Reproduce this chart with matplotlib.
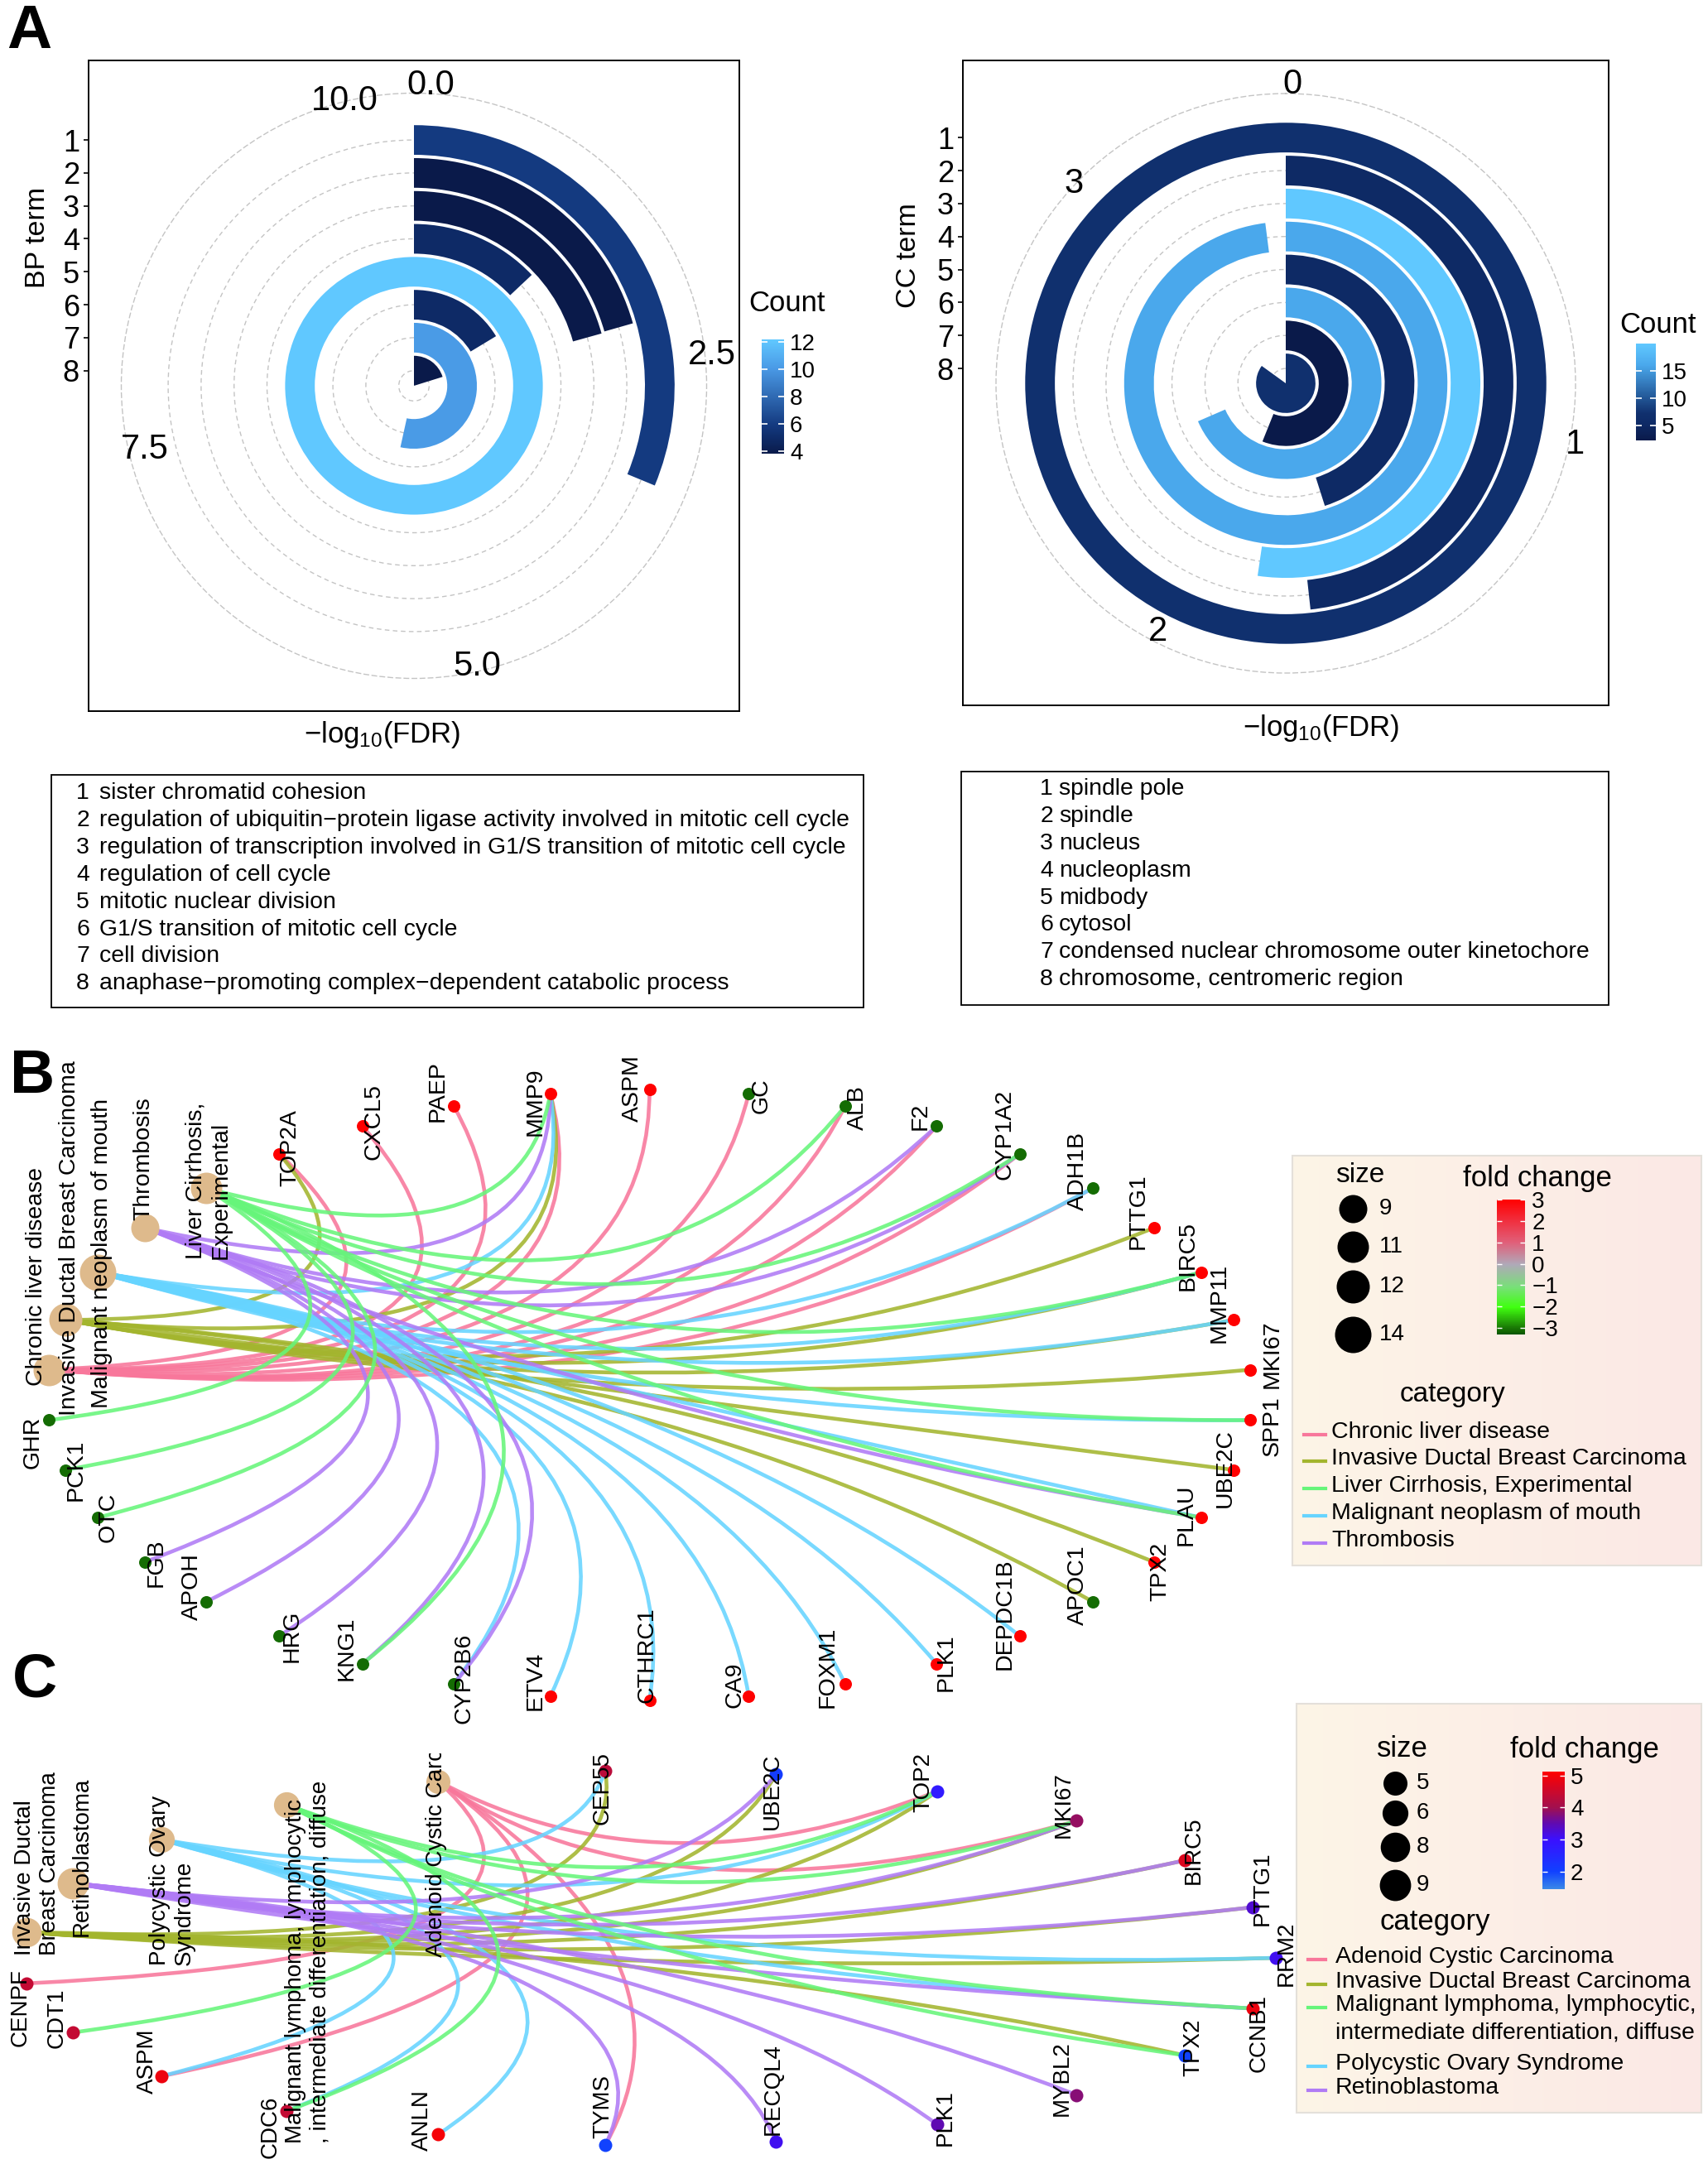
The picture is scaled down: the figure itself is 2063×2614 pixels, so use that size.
import matplotlib
matplotlib.use("Agg")
import matplotlib.pyplot as plt
import numpy as np
from matplotlib.cm import ScalarMappable
from matplotlib.colors import LinearSegmentedColormap, Normalize
from matplotlib.patches import PathPatch, Rectangle
from matplotlib.path import Path

plt.rcParams['font.family'] = ['Liberation Sans', 'DejaVu Sans']
plt.rcParams['mathtext.default'] = 'regular'

W, H = 2063, 2614

# panel A data
bp_terms = ["sister chromatid cohesion",
            "regulation of ubiquitin\u2212protein ligase activity involved in mitotic cell cycle",
            "regulation of transcription involved in G1/S transition of mitotic cell cycle",
            "regulation of cell cycle",
            "mitotic nuclear division",
            "G1/S transition of mitotic cell cycle",
            "cell division",
            "anaphase\u2212promoting complex\u2212dependent catabolic process"]
bp_fdr = [3.25, 2.14, 2.15, 1.35, 10.4, 1.7, 5.56, 2.1]
bp_count = [6, 4, 4, 5, 12, 5, 10, 4]
bp_ticks = [0, 2.5, 5, 7.5, 10]
bp_labels = ["0.0", "2.5", "5.0", "7.5", "10.0"]

cc_terms = ["spindle pole", "spindle", "nucleus", "nucleoplasm", "midbody", "cytosol",
            "condensed nuclear chromosome outer kinetochore", "chromosome, centromeric region"]
cc_fdr = [3.46, 1.67, 1.81, 3.39, 1.56, 2.37, 1.94, 2.94]
cc_count = [7, 5, 20, 16, 5, 16, 2, 7]
cc_ticks = [0, 1, 2, 3]
cc_labels = ["0", "1", "2", "3"]

# panel B data
b_genes_top = ["ASPM", "GC", "ALB", "F2", "CYP1A2", "ADH1B", "PTTG1", "BIRC5", "MMP11", "MKI67",
               "SPP1", "UBE2C", "PLAU", "TPX2", "APOC1", "DEPDC1B", "PLK1", "FOXM1", "CA9", "CTHRC1",
               "ETV4", "CYP2B6", "KNG1", "HRG", "APOH", "FGB", "OTC", "PCK1", "GHR"]
b_diseases = ["Chronic liver disease", "Invasive Ductal Breast Carcinoma", "Malignant neoplasm of mouth",
              "Thrombosis", "Liver Cirrhosis,\nExperimental"]
b_genes_end = ["TOP2A", "CXCL5", "PAEP", "MMP9"]
b_down = ["GC", "ALB", "F2", "CYP1A2", "ADH1B", "APOC1", "CYP2B6", "KNG1", "HRG", "APOH", "FGB", "OTC", "PCK1", "GHR"]
b_size = [11, 12, 14, 9, 11]

b_chronic = ["TOP2A", "CXCL5", "PAEP", "MMP9", "ASPM", "GC", "ALB", "F2", "CYP1A2", "ADH1B"]
b_invasive = ["TOP2A", "MMP9", "PTTG1", "BIRC5", "MMP11", "MKI67", "UBE2C", "TPX2", "APOC1"]
b_mouth = ["MMP9", "ADH1B", "BIRC5", "MMP11", "SPP1", "PLAU", "DEPDC1B", "PLK1", "FOXM1", "CA9", "CTHRC1", "ETV4", "CYP2B6"]
b_thrombosis = ["MMP9", "F2", "CYP1A2", "PLAU", "CYP2B6", "KNG1", "HRG", "APOH", "FGB"]
b_cirrhosis = ["MMP9", "ALB", "CYP1A2", "BIRC5", "SPP1", "PLAU", "KNG1", "OTC", "PCK1", "GHR"]

# panel C data
c_genes_a = ["RRM2", "CCNB1", "TPX2", "MYBL2", "PLK1", "RECQL4", "TYMS", "ANLN", "CDC6", "ASPM", "CDT1", "CENPF"]
c_diseases = ["Invasive Ductal\nBreast Carcinoma", "Retinoblastoma", "Polycystic Ovary\nSyndrome",
              "Malignant lymphoma, lymphocytic\n, intermediate differentiation, diffuse", "Adenoid Cystic Carcinoma"]
c_genes_b = ["CEP55", "UBE2C", "TOP2", "MKI67", "BIRC5", "PTTG1"]
c_fold = {"RRM2": 3.1, "CCNB1": 4.9, "TPX2": 2.0, "MYBL2": 3.8, "PLK1": 3.5, "RECQL4": 3.1, "TYMS": 2.0,
          "ANLN": 5.0, "CDC6": 4.4, "ASPM": 4.9, "CDT1": 4.4, "CENPF": 4.4, "CEP55": 4.3, "UBE2C": 2.1,
          "TOP2": 2.8, "MKI67": 3.9, "BIRC5": 4.7, "PTTG1": 3.3}
c_size = [8, 9, 6, 6, 5]

c_adenoid = ["TOP2", "MKI67", "TYMS", "ASPM", "CENPF"]
c_invasive = ["CEP55", "UBE2C", "TOP2", "MKI67", "BIRC5", "PTTG1", "RRM2", "TPX2"]
c_polycystic = ["CEP55", "TOP2", "RRM2", "CCNB1", "ANLN", "CDC6", "ASPM"]
c_retino = ["UBE2C", "MKI67", "BIRC5", "PTTG1", "CCNB1", "MYBL2", "PLK1", "RECQL4", "TYMS"]
c_lymphoma = ["TOP2", "MKI67", "CCNB1", "TPX2", "CDC6", "CDT1"]

PINK, OLIVE, GREEN, BLUE, PURPLE = "#f8779b", "#a3b52e", "#66f57a", "#66d4ff", "#b07bf5"
TAN = "#deba8c"

fig = plt.figure(figsize=(W / 100, H / 100), dpi=100, facecolor="white")


def px_axes(x0, y0, x1, y1, **kw):
    return fig.add_axes([x0 / W, 1 - y1 / H, (x1 - x0) / W, (y1 - y0) / H], **kw)


def px_to_pt(d):
    return (d / (100 / 72)) ** 2


canvas = px_axes(0, 0, W, H)
canvas.set_xlim(0, W)
canvas.set_ylim(H, 0)
canvas.axis("off")
canvas.set_zorder(5)
canvas.patch.set_alpha(0)


def count_bar(box, cmap, norm, ticks):
    cax = px_axes(*box)
    cb = fig.colorbar(ScalarMappable(norm=norm, cmap=cmap), cax=cax)
    cb.set_ticks(ticks)
    cb.outline.set_visible(False)
    cax.tick_params(axis="y", direction="in", color="white", length=5, width=1.2,
                    left=True, right=True, labelsize=20, pad=5)
    return cb


def radial_panel(frame_box, centre, radius, unit, origin, values, counts, cmap, norm,
                 vmax, ticks, labels, offsets):
    x0, y0, x1, y1 = frame_box
    frame = px_axes(x0, y0, x1, y1)
    frame.set_xticks([])
    frame.set_ylim(origin - (y1 - centre[1]) / unit, origin + (centre[1] - y0) / unit)
    frame.set_yticks(range(1, 9))
    frame.set_yticklabels(range(8, 0, -1), fontsize=26)
    frame.tick_params(axis="y", length=4, width=1.2, pad=4)
    for s in frame.spines.values():
        s.set_linewidth(1.4)

    ax = px_axes(centre[0] - radius, centre[1] - radius, centre[0] + radius, centre[1] + radius,
                 projection="polar")
    ax.set_theta_zero_location("N")
    ax.set_theta_direction(-1)
    ax.patch.set_alpha(0)
    rmax = origin + radius / unit
    ax.set_ylim(origin, rmax)
    ax.set_rticks(range(1, 9))
    ax.set_yticklabels([])
    ax.set_xticks([])
    ax.yaxis.grid(True, color="#c4c4c4", linestyle=(0, (4, 3)), linewidth=1.0)
    ax.spines["polar"].set_linestyle((0, (4, 3)))
    ax.spines["polar"].set_color("#c4c4c4")
    ax.spines["polar"].set_linewidth(1.0)
    to_angle = 2 * np.pi / vmax
    pos = 8 - np.arange(8)
    bottoms = np.maximum(pos - 0.45, origin)
    tops = pos + 0.45
    ax.bar(np.zeros(8), tops - bottoms, width=np.array(values) * to_angle, bottom=bottoms, align="edge",
           color=cmap(norm(np.array(counts))), linewidth=0, zorder=3)
    for t, lab, off in zip(ticks, labels, offsets):
        ax.annotate(lab, xy=(t * to_angle, rmax), xytext=(off[0], -off[1]), textcoords="offset pixels",
                    ha="center", va="center", fontsize=30, annotation_clip=False, zorder=6)
    return frame, ax


bp_cmap = LinearSegmentedColormap.from_list(
    "bp", [(0, "#0a1a4a"), (0.125, "#0e2a66"), (0.25, "#143a80"), (0.75, "#4a9ae6"), (1, "#60c8ff")])
bp_norm = Normalize(4, 12)
cc_cmap = LinearSegmentedColormap.from_list(
    "cc", [(0, "#0a1a4a"), (0.17, "#0e2a66"), (0.28, "#10306e"), (0.78, "#4aa8ec"), (1, "#60c8ff")])
cc_norm = Normalize(2, 20)

radial_panel((107, 73, 893, 859), (500, 466), 353.5, 39.8, 0.54, bp_fdr, bp_count, bp_cmap, bp_norm, 10.4,
             bp_ticks, bp_labels, [(20, -10), (7, -16), (34, -12), (23, 13), (1, -1)])
radial_panel((1163, 73, 1943, 852), (1553, 463), 350, 39.84, 0.55, cc_fdr, cc_count, cc_cmap, cc_norm, 3.46,
             cc_ticks, cc_labels, [(8, -11), (10, -11), (10, -9), (4, -6)])

count_bar((920, 410, 947, 548), bp_cmap, Normalize(3.8, 12.2), [4, 6, 8, 10, 12])
count_bar((1976, 415, 2000, 532), cc_cmap, Normalize(2.3, 19.9), [5, 10, 15])

canvas.text(45, 287, "BP term", rotation=90, ha="center", va="center", fontsize=24.5)
canvas.text(1097, 309, "CC term", rotation=90, ha="center", va="center", fontsize=24.5)
canvas.text(462, 887, r"$-log_{10}(FDR)$", ha="center", va="center", fontsize=25)
canvas.text(1596, 879, r"$-log_{10}(FDR)$", ha="center", va="center", fontsize=25)
canvas.text(950, 367, "Count", ha="center", va="center", fontsize=25)
canvas.text(2003, 393, "Count", ha="center", va="center", fontsize=25)


# term boxes
def term_box(box, terms, num_x, text_x, first_y):
    x0, y0, x1, y1 = box
    canvas.add_patch(Rectangle((x0, y0), x1 - x0, y1 - y0, fill=False, edgecolor="black", linewidth=1.3))
    for i, term in enumerate(terms):
        y = first_y + i * 32.9
        canvas.text(num_x, y, str(i + 1), ha="center", va="center", fontsize=20.4)
        canvas.text(text_x, y, term, ha="left", va="center", fontsize=20.4)


term_box((62, 936, 1043, 1217), bp_terms, 100, 120, 958)
term_box((1161, 932, 1943, 1214), cc_terms, 1264, 1279, 953)


def circle_layout(names, cx, cy, rx, ry, start_deg):
    n = len(names)
    ang = np.radians(start_deg) + 2 * np.pi * np.arange(n) / n
    unit = np.column_stack([np.cos(ang), np.sin(ang)])
    return {name: unit[i] for i, name in enumerate(names)}, (np.array([cx, cy]), np.array([rx, ry]))


def draw_edge(a, b, frame, color):
    # bend every edge towards the middle of the ring, in ring units
    centre, scale = frame
    mid = (a + b) / 2
    chord = np.linalg.norm(a - b)
    m = np.linalg.norm(mid)
    offset = min(0.38 * chord, 0.37, 0.5 * m + 0.05)
    ctrl = mid - mid / max(m, 1e-6) * offset * 2
    pts = [centre + p * scale for p in (a, ctrl, b)]
    canvas.add_patch(PathPatch(Path(pts, [Path.MOVETO, Path.CURVE3, Path.CURVE3]), fill=False,
                               edgecolor=color, linewidth=3.3, alpha=0.88, capstyle="round", zorder=2))


def gradient_box(x0, y0, x1, y1):
    grad = np.linspace(0, 1, 256)[None, :, None]
    left, right = np.array([0.992, 0.96, 0.905]), np.array([0.985, 0.91, 0.90])
    img = left + (right - left) * grad
    canvas.imshow(img, extent=(x0, x1, y1, y0), aspect="auto", zorder=1)
    canvas.add_patch(Rectangle((x0, y0), x1 - x0, y1 - y0, fill=False, edgecolor="#e4e0da", linewidth=1.5, zorder=1.5))
    canvas.set_xlim(0, W)
    canvas.set_ylim(H, 0)


# panel B
b_nodes = b_genes_top + b_diseases + b_genes_end
b_pos, b_frame = circle_layout(b_nodes, 784.5, 1685, 728, 369, -90)
b_edges = [(b_diseases[0], b_chronic, PINK), (b_diseases[1], b_invasive, OLIVE), (b_diseases[2], b_mouth, BLUE),
           (b_diseases[3], b_thrombosis, PURPLE), (b_diseases[4], b_cirrhosis, GREEN)]
for dis, genes, col in b_edges:
    for g in genes:
        draw_edge(b_pos[dis], b_pos[g], b_frame, col)

b_fold_cmap = LinearSegmentedColormap.from_list(
    "fold_b", [(0, "#0b5500"), (0.05, "#1a7a05"), (0.2, "#40ff10"), (0.35, "#78e078"), (0.52, "#b0a8b8"),
               (0.68, "#e0607a"), (0.84, "#f03040"), (1, "#ff0000")])
b_fold_norm = Normalize(-3.3, 3)


def xy(pos, frame, name):
    return frame[0] + pos[name] * frame[1]


for name in b_genes_top + b_genes_end:
    p = xy(b_pos, b_frame, name)
    fc = b_fold_norm(-3.1 if name in b_down else 3)
    canvas.scatter(p[0], p[1], s=px_to_pt(15), color=b_fold_cmap(fc), zorder=3, linewidths=0)
for name, sz in zip(b_diseases, b_size):
    p = xy(b_pos, b_frame, name)
    canvas.scatter(p[0], p[1], s=px_to_pt(34 + 2 * (sz - 9)), color=TAN, zorder=3, linewidths=0)

b_off = {"TOP2A": (13, -7), "CXCL5": (13, -5), "PAEP": (-19, -18), "MMP9": (-18, 10), "ASPM": (-21, -1),
         "GC": (15, 3), "ALB": (15, 2), "F2": (-19, -12), "CYP1A2": (-18, -23), "ADH1B": (-18, -21),
         "PTTG1": (-19, -20), "BIRC5": (-17, -20), "MMP11": (-18, -20), "MKI67": (27, -19), "SPP1": (27, 7),
         "UBE2C": (-10, -2), "PLAU": (-19, -3), "TPX2": (7, 12), "APOC1": (-18, -20), "DEPDC1B": (-18, -27),
         "PLK1": (12, -1), "FOXM1": (-21, -20), "CA9": (-17, -14), "CTHRC1": (-3, -55), "ETV4": (-18, -19),
         "CYP2B6": (12, -7), "KNG1": (-19, -18), "HRG": (15, 0), "APOH": (-17, -18), "FGB": (14, 1),
         "OTC": (13, 0), "PCK1": (13, 0), "GHR": (-19, 27),
         b_diseases[0]: (-15, -113), b_diseases[1]: (5, -99), b_diseases[2]: (5, -23), b_diseases[3]: (-2, -84),
         b_diseases[4]: (3, -9)}
for name in b_nodes:
    p = xy(b_pos, b_frame, name)
    canvas.text(p[0] + b_off[name][0], p[1] + b_off[name][1], name, rotation=90, ha="center", va="center",
                fontsize=20.5, zorder=4, multialignment="left")

# panel C
c_nodes = c_genes_a + c_diseases + c_genes_b
c_pos, c_frame = circle_layout(c_nodes, 783, 2365, 758, 226.5, 0)
c_edges = [(c_diseases[4], c_adenoid, PINK), (c_diseases[0], c_invasive, OLIVE), (c_diseases[2], c_polycystic, BLUE),
           (c_diseases[1], c_retino, PURPLE), (c_diseases[3], c_lymphoma, GREEN)]
for dis, genes, col in c_edges:
    for g in genes:
        draw_edge(c_pos[dis], c_pos[g], c_frame, col)

c_fold_cmap = LinearSegmentedColormap.from_list(
    "fold_c", [(0, "#3a88e8"), (0.15, "#1040ff"), (0.42, "#3a10ff"), (0.56, "#600ab0"), (0.69, "#a01050"), (1, "#ff0000")])
c_fold_norm = Normalize(1.46, 5.12)
for name in c_genes_a + c_genes_b:
    p = xy(c_pos, c_frame, name)
    canvas.scatter(p[0], p[1], s=px_to_pt(16), color=c_fold_cmap(c_fold_norm(c_fold[name])), zorder=3, linewidths=0)
for name, sz in zip(c_diseases, c_size):
    p = xy(c_pos, c_frame, name)
    canvas.scatter(p[0], p[1], s=px_to_pt(29 + 2.2 * (sz - 5)), color=TAN, zorder=3, linewidths=0)

c_off = {"CEP55": (-4, 21), "UBE2C": (-4, 21), "TOP2": (-16, -11), "MKI67": (-16, -19), "BIRC5": (11, -12),
         "PTTG1": (12, -23), "RRM2": (13, -5), "CCNB1": (8, 30), "TPX2": (11, -9), "MYBL2": (-18, -20),
         "PLK1": (10, -8), "RECQL4": (-3, -63), "TYMS": (-3, -46), "ANLN": (-19, -17), "CDC6": (-19, 19),
         "ASPM": (-17, -18), "CDT1": (-19, -17), "CENPF": (-7, 29),
         c_diseases[0]: (13, -83), c_diseases[1]: (11, -32), c_diseases[2]: (13, 49), c_diseases[3]: (26, 190),
         c_diseases[4]: (-2, 49)}
clip_rect = Rectangle((0, 2118), W, H - 2118, transform=canvas.transData)
for name in c_nodes:
    p = xy(c_pos, c_frame, name)
    t = canvas.text(p[0] + c_off[name][0], p[1] + c_off[name][1], name, rotation=90, ha="center", va="center",
                    fontsize=20, zorder=4, multialignment="left")
    t.set_clip_path(clip_rect)
    t.set_clip_on(True)

# legends
gradient_box(1561, 1396, 2055, 1891)
canvas.text(1643, 1419, "size", ha="center", va="center", fontsize=24, zorder=4)
canvas.text(1857, 1423, "fold change", ha="center", va="center", fontsize=25, zorder=4)
for sz, y in zip([9, 11, 12, 14], [1460, 1506, 1554, 1612]):
    canvas.scatter(1634, y, s=px_to_pt(34 + 2 * (sz - 9)), color="black", zorder=3, linewidths=0)
    canvas.text(1666, y, str(sz), ha="left", va="center", fontsize=20, zorder=4)
canvas.text(1754, 1685, "category", ha="center", va="center", fontsize=24, zorder=4)
b_legend = ["Chronic liver disease", "Invasive Ductal Breast Carcinoma", "Liver Cirrhosis, Experimental",
            "Malignant neoplasm of mouth", "Thrombosis"]
for name, col, y in zip(b_legend, [PINK, OLIVE, GREEN, BLUE, PURPLE], [1730, 1762, 1795, 1828, 1861]):
    canvas.plot([1575, 1601], [y + 3, y + 3], color=col, linewidth=3, zorder=3)
    canvas.text(1608, y, name, ha="left", va="center", fontsize=20.5, zorder=4)

gradient_box(1566, 2058, 2055, 2552)
canvas.text(1694, 2113, "size", ha="center", va="center", fontsize=25, zorder=4)
canvas.text(1914, 2113, "fold change", ha="center", va="center", fontsize=25, zorder=4)
for sz, y in zip([5, 6, 8, 9], [2154, 2190, 2231, 2277]):
    canvas.scatter(1685, y, s=px_to_pt(29 + 2.2 * (sz - 5)), color="black", zorder=3, linewidths=0)
    canvas.text(1711, y, str(sz), ha="left", va="center", fontsize=20, zorder=4)
canvas.text(1733, 2321, "category", ha="center", va="center", fontsize=25, zorder=4)
c_legend = ["Adenoid Cystic Carcinoma", "Invasive Ductal Breast Carcinoma", "Malignant lymphoma, lymphocytic,",
            "intermediate differentiation, diffuse", "Polycystic Ovary Syndrome", "Retinoblastoma"]
c_colors = [PINK, OLIVE, GREEN, None, BLUE, PURPLE]
for name, col, y in zip(c_legend, c_colors, [2364, 2394, 2422, 2456, 2493, 2522]):
    if col:
        canvas.plot([1580, 1601], [y + 3, y + 3], color=col, linewidth=3, zorder=3)
    canvas.text(1613, y, name, ha="left", va="center", fontsize=20.5, zorder=4)

fold_b_ax = px_axes(1808, 1449, 1842, 1612)
cb = fig.colorbar(ScalarMappable(norm=b_fold_norm, cmap=b_fold_cmap), cax=fold_b_ax)
cb.set_ticks(range(-3, 4))
cb.set_ticklabels(["\u22123", "\u22122", "\u22121", "0", "1", "2", "3"])
cb.outline.set_visible(False)
fold_b_ax.tick_params(axis="y", direction="in", color="white", length=4, width=1, left=True, right=True,
                      labelsize=20, pad=6)
fold_b_ax.set_zorder(6)

fold_c_ax = px_axes(1863, 2140, 1890, 2282)
cb2 = fig.colorbar(ScalarMappable(norm=c_fold_norm, cmap=c_fold_cmap), cax=fold_c_ax)
cb2.set_ticks([2, 3, 4, 5])
cb2.outline.set_visible(False)
fold_c_ax.tick_params(axis="y", direction="in", color="white", length=4, width=1, left=True, right=True,
                      labelsize=20, pad=5)
fold_c_ax.set_zorder(6)

# panel letters
for letter, x, y in [("A", 35, 38), ("B", 39, 1300), ("C", 42, 2030)]:
    canvas.text(x, y, letter, ha="center", va="center", fontsize=54, fontweight="bold", zorder=6)

fig.savefig("out.png", dpi=100)
